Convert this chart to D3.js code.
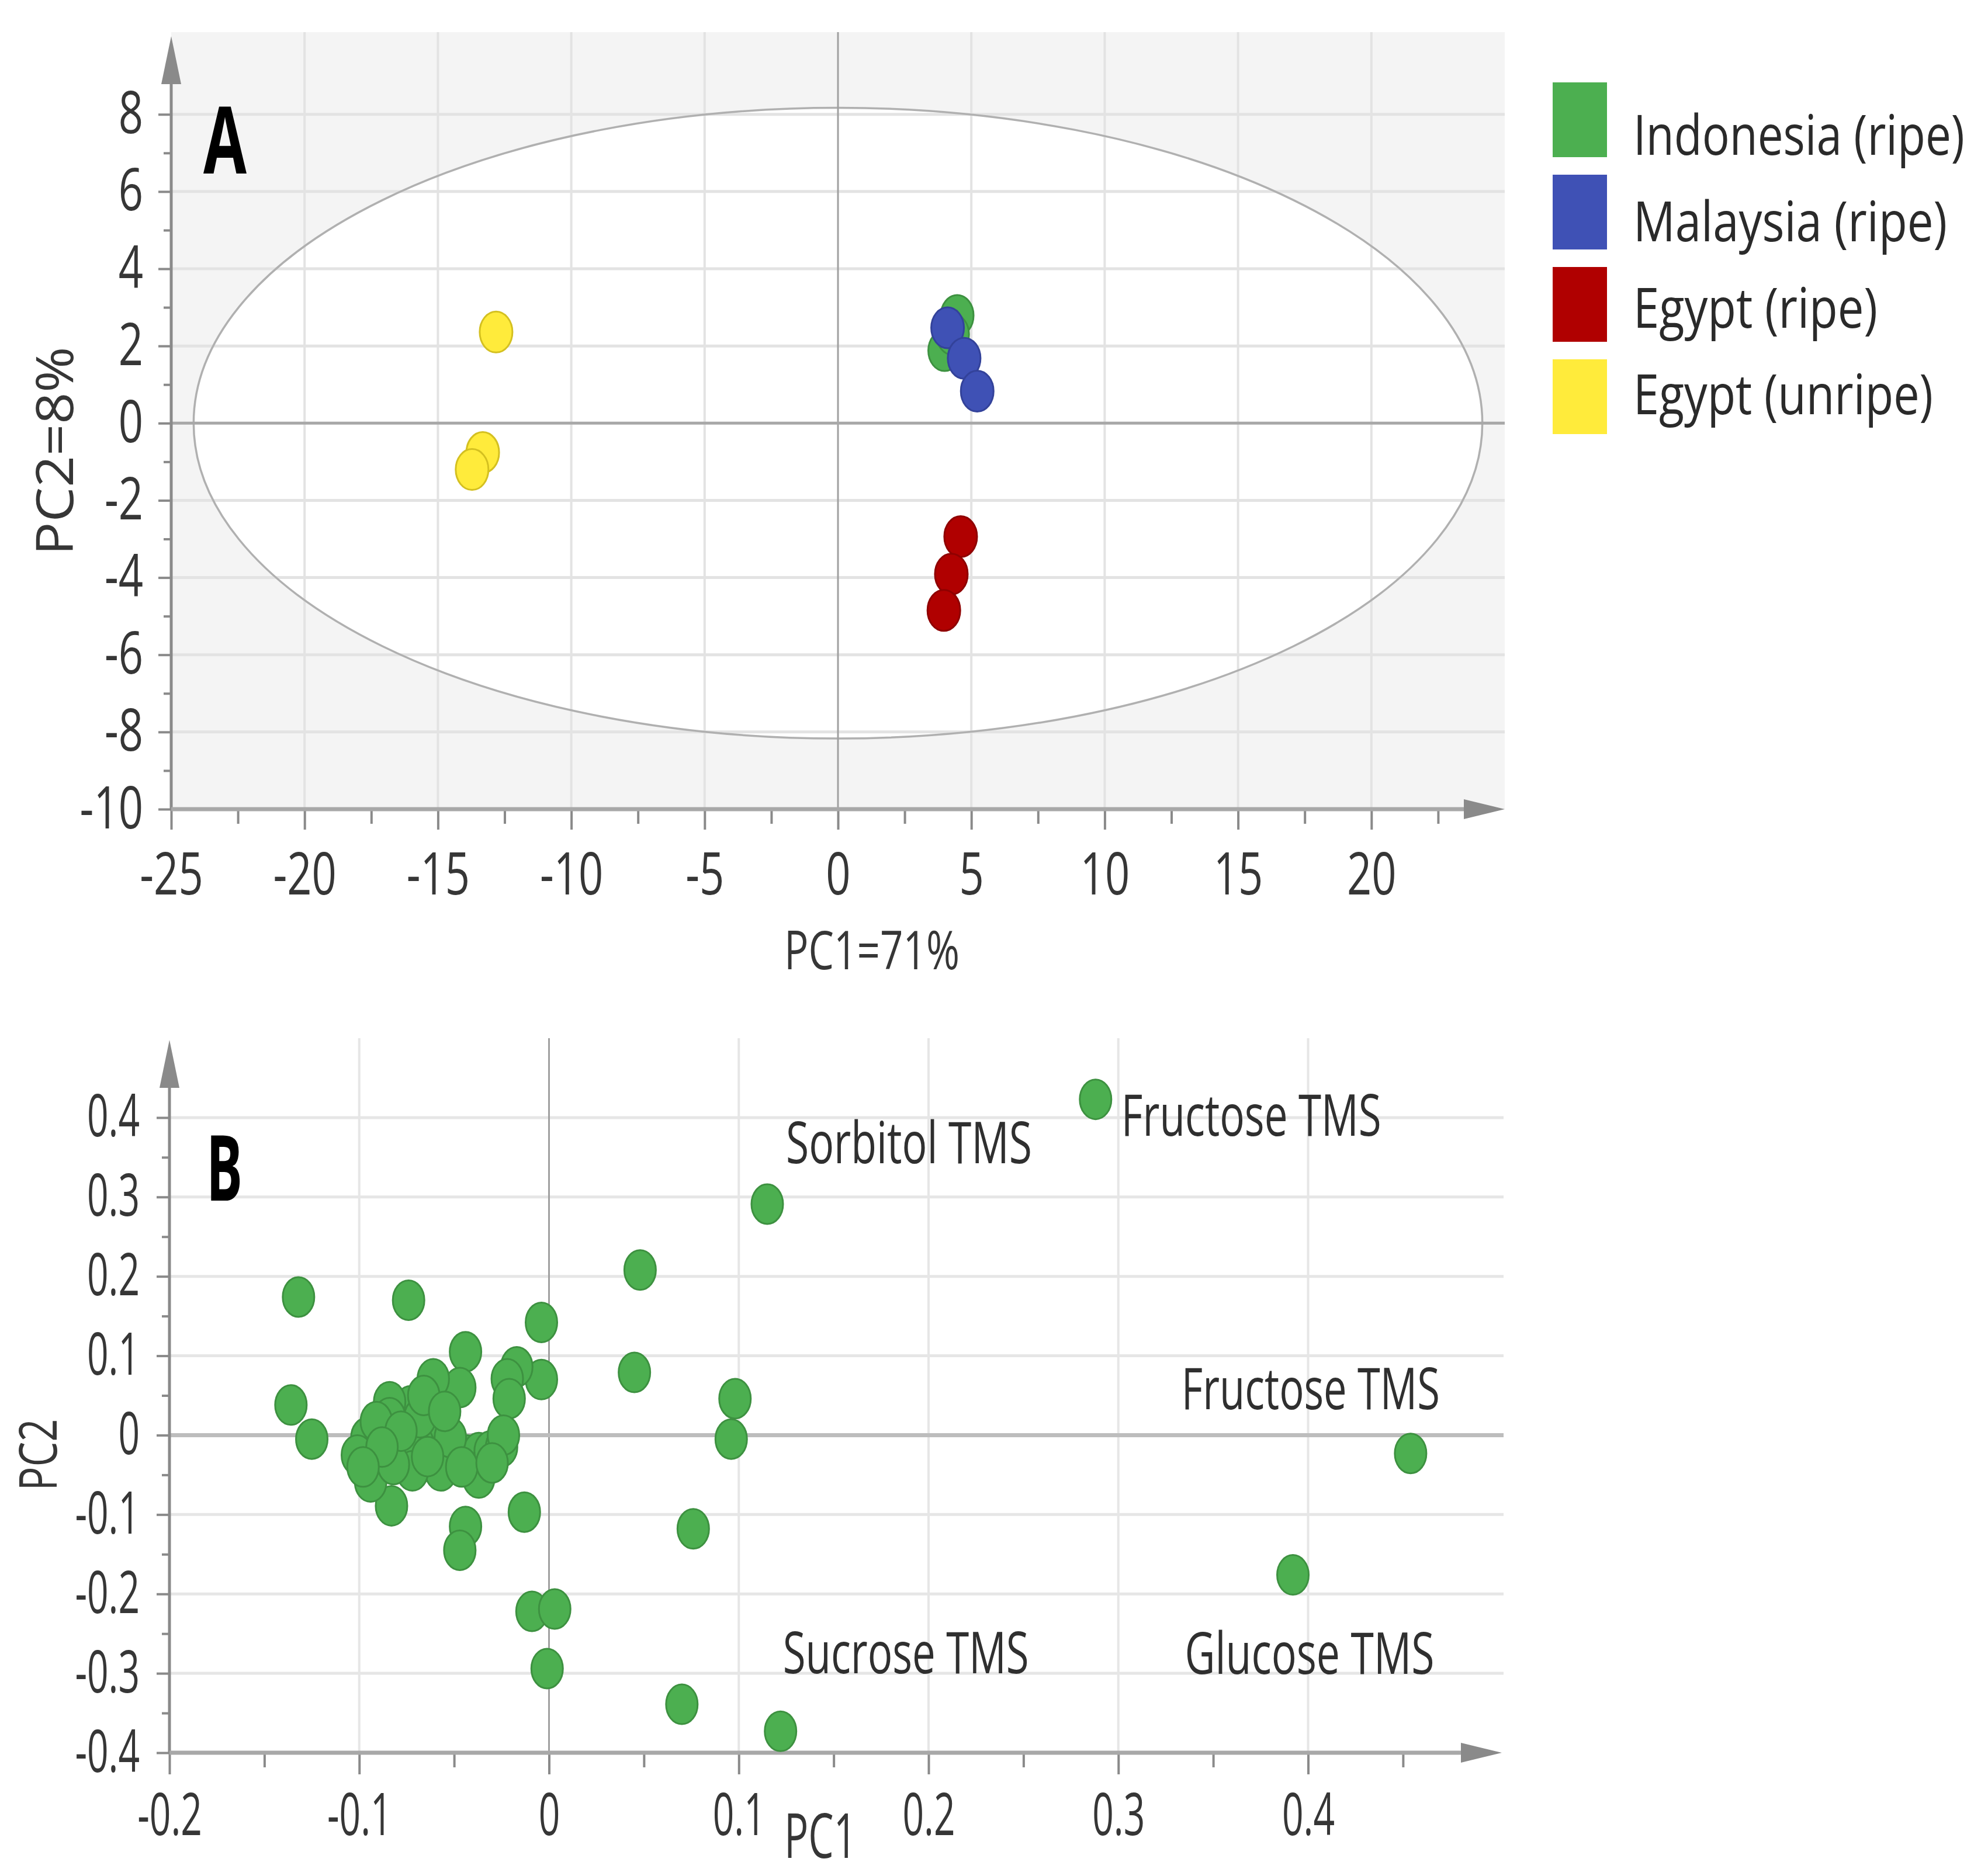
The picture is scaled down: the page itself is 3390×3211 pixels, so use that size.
<!DOCTYPE html>
<html><head><meta charset="utf-8">
<script src="https://cdn.jsdelivr.net/npm/d3@7"></script>
<style>body{margin:0;background:#fff}svg{display:block}text{font-family:"Open Sans",sans-serif}</style>
</head><body>
<script>
// ---------- DATA ----------
const groupNames = ["Indonesia (ripe)", "Malaysia (ripe)", "Egypt (ripe)", "Egypt (unripe)"];
const groupColors = ["#4caf50", "#3f51b5", "#b00000", "#ffeb3b"];
const groupStrokes = ["#3d9140", "#33429a", "#8f0000", "#d4c020"];
// scores (PC1, PC2) per group
const scoresIndonesia = [[4.47, 2.79], [4.0, 1.88], [4.3, 2.3]];
const scoresMalaysia  = [[4.11, 2.47], [4.73, 1.68], [5.22, 0.83]];
const scoresEgyptRipe = [[4.6, -2.94], [4.25, -3.91], [3.97, -4.85]];
const scoresEgyptUnripe = [[-12.82, 2.36], [-13.32, -0.76], [-13.72, -1.2]];
const ellipseRadii = [24.16, 8.17];
const scoreXTicks = [-25, -20, -15, -10, -5, 0, 5, 10, 15, 20];
const scoreYTicks = [-10, -8, -6, -4, -2, 0, 2, 4, 6, 8];
// loadings (PC1, PC2)
const loadings = [
 [-0.132,0.174],[-0.074,0.170],[-0.136,0.038],[-0.125,-0.005],[-0.004,0.142],[-0.044,0.105],
 [-0.004,0.070],[0.048,0.208],[0.045,0.079],[0.115,0.291],[0.098,0.046],[0.096,-0.005],
 [0.076,-0.118],[-0.013,-0.097],[-0.044,-0.115],[-0.047,-0.145],[-0.009,-0.222],[0.003,-0.219],
 [-0.001,-0.294],[0.070,-0.339],[0.122,-0.373],[-0.083,-0.089],
 [0.288,0.423],[0.454,-0.023],[0.392,-0.176],
 [-0.017,0.086],[-0.022,0.071],[-0.021,0.046],[-0.047,0.060],[-0.061,0.071],[-0.073,0.037],
 [-0.084,0.042],[-0.060,0.012],[-0.096,-0.003],[-0.101,-0.025],[-0.069,-0.012],[-0.050,-0.017],
 [-0.043,-0.025],[-0.037,-0.022],[-0.031,-0.020],[-0.025,-0.015],[-0.024,0.000],[-0.037,-0.054],
 [-0.094,-0.059],[-0.057,-0.045],[-0.072,-0.045],[-0.082,-0.037],[-0.084,0.022],[-0.091,0.017],
 [-0.068,0.022],[-0.052,-0.003],[-0.064,-0.027],[-0.078,0.005],[-0.088,-0.015],[-0.046,-0.040],
 [-0.030,-0.035],[-0.066,0.050],[-0.055,0.030],[-0.098,-0.040]
];
const loadingLabels = [
 {name:"Fructose TMS", at:[0.288,0.423]},
 {name:"Sorbitol TMS", at:[0.115,0.291]},
 {name:"Fructose TMS", at:[0.454,-0.023]},
 {name:"Sucrose TMS", at:[0.122,-0.373]},
 {name:"Glucose TMS", at:[0.392,-0.176]}
];
const loadXTicks = [-0.2, -0.1, 0, 0.1, 0.2, 0.3, 0.4];
const loadYTicks = [-0.4, -0.3, -0.2, -0.1, 0, 0.1, 0.2, 0.3, 0.4];

// ---------- LAYOUT ----------
const W = 3390, H = 3211;
const svg = d3.select("body").append("svg").attr("width", W).attr("height", H);
const TXT = "#363636";
function squeeze(sel, f) {
  sel.each(function(){
    const x = +(this.getAttribute("x") || 0);
    this.setAttribute("transform", `translate(${x * (1 - f)},0) scale(${f},1)`);
  });
}
function fitText(g, x, y, str, size, width, opts = {}) {
  const t = g.append("text").attr("font-size", size).attr("fill", opts.fill || TXT)
    .attr("font-weight", opts.weight || 400).attr("text-anchor", opts.anchor || "start").text(str);
  const w = t.node().getComputedTextLength();
  const f = width / w;
  t.attr("transform", `translate(${x},${y})${opts.rotate ? " rotate(" + opts.rotate + ")" : ""} scale(${f},1)`);
  return t;
}
function arrowUp(g, x, tip) {
  g.append("path").attr("d", `M${x},${tip} L${x-17},${tip+82} L${x+17},${tip+82} Z`).attr("fill", "#8a8a8a");
}
function arrowRight(g, tip, y) {
  g.append("path").attr("d", `M${tip},${y} L${tip-70},${y-17} L${tip-70},${y+17} Z`).attr("fill", "#8a8a8a");
}
function styleAxis(a) {
  a.select(".domain").remove();
  a.selectAll(".tick line").attr("stroke", "#8a8a8a").attr("stroke-width", 4);
  a.selectAll("text").attr("font-size", 100).attr("fill", TXT).attr("font-family", '"Open Sans",sans-serif');
}

// ================= PANEL A =================
const xA = d3.scaleLinear().domain([-25, 25]).range([293, 2575]);
const yA = d3.scaleLinear().domain([-10, 10.13]).range([1385, 55]);
const gA = svg.append("g");
gA.append("rect").attr("x", xA(-25)).attr("y", yA(10.13)).attr("width", xA(25)-xA(-25))
  .attr("height", yA(-10)-yA(10.13)).attr("fill", "#f4f4f4");
gA.append("ellipse").attr("cx", xA(0)).attr("cy", yA(0))
  .attr("rx", xA(ellipseRadii[0]) - xA(0)).attr("ry", yA(0) - yA(ellipseRadii[1])).attr("fill", "#fff");
gA.selectAll(".gvx").data(d3.range(-20, 25, 5).filter(d => d !== 0)).join("line")
  .attr("x1", d => xA(d)).attr("x2", d => xA(d)).attr("y1", yA(10.13)).attr("y2", yA(-10))
  .attr("stroke", "#e3e3e3").attr("stroke-width", 4);
gA.selectAll(".gvy").data(d3.range(-8, 10, 2).filter(d => d !== 0)).join("line")
  .attr("x1", xA(-25)).attr("x2", xA(25)).attr("y1", d => yA(d)).attr("y2", d => yA(d))
  .attr("stroke", "#e3e3e3").attr("stroke-width", 5);
gA.append("ellipse").attr("cx", xA(0)).attr("cy", yA(0))
  .attr("rx", xA(ellipseRadii[0]) - xA(0)).attr("ry", yA(0) - yA(ellipseRadii[1]))
  .attr("fill", "none").attr("stroke", "#b0b0b0").attr("stroke-width", 3.5);
gA.append("line").attr("x1", xA(0)).attr("x2", xA(0)).attr("y1", yA(10.13)).attr("y2", yA(-10))
  .attr("stroke", "#a0a0a0").attr("stroke-width", 3);
gA.append("line").attr("x1", xA(-25)).attr("x2", xA(25)).attr("y1", yA(0)).attr("y2", yA(0))
  .attr("stroke", "#a8a8a8").attr("stroke-width", 5);
const axAy = gA.append("g").attr("transform", `translate(${xA(-25)},0)`)
  .call(d3.axisLeft(yA).tickValues(scoreYTicks).tickSize(22).tickPadding(26).tickFormat(d => String(d)));
const axAyMinor = gA.append("g").attr("transform", `translate(${xA(-25)},0)`)
  .call(d3.axisLeft(yA).tickValues(d3.range(-9, 10, 2)).tickSize(13).tickFormat(""));
const axAx = gA.append("g").attr("transform", `translate(0,${yA(-10)})`)
  .call(d3.axisBottom(xA).tickValues(scoreXTicks).tickSize(35).tickPadding(40).tickFormat(d => String(d)));
const axAxMinor = gA.append("g").attr("transform", `translate(0,${yA(-10)})`)
  .call(d3.axisBottom(xA).tickValues(d3.range(-22.5, 25, 5)).tickSize(25).tickFormat(""));
[axAy, axAyMinor, axAx, axAxMinor].forEach(styleAxis);
squeeze(axAy.selectAll("text"), 0.74);
squeeze(axAx.selectAll("text"), 0.74);
gA.append("line").attr("x1", xA(-25)).attr("x2", xA(-25)).attr("y1", yA(-10)).attr("y2", 120)
  .attr("stroke", "#8a8a8a").attr("stroke-width", 5);
gA.append("line").attr("x1", xA(-25)).attr("x2", 2520).attr("y1", yA(-10)).attr("y2", yA(-10))
  .attr("stroke", "#a8a8a8").attr("stroke-width", 7);
arrowUp(gA, xA(-25), 62);
arrowRight(gA, 2575, yA(-10));
const groupsA = [scoresIndonesia, scoresMalaysia, scoresEgyptRipe, scoresEgyptUnripe];
groupsA.forEach((pts, i) => {
  gA.selectAll(null).data(pts).join("ellipse")
    .attr("cx", d => xA(d[0])).attr("cy", d => yA(d[1])).attr("rx", 28).attr("ry", 35)
    .attr("fill", groupColors[i]).attr("stroke", groupStrokes[i]).attr("stroke-width", 3);
});
fitText(gA, 348, 297, "A", 160, 74, {weight: 700, fill: "#000"});
fitText(gA, 1342, 1659, "PC1=71%", 92, 300);
fitText(gA, 125, 772, "PC2=8%", 88, 357, {anchor: "middle", rotate: -90});
// legend
const legW = [567, 537, 418, 513];
const leg = svg.append("g");
groupNames.forEach((n, i) => {
  leg.append("rect").attr("x", 2657).attr("y", 141 + i * 158).attr("width", 93).attr("height", 128)
    .attr("fill", groupColors[i]);
  fitText(leg, 2795, 265 + i * 148, n, 96, legW[i], {fill: "#2a2a2a"});
});

// ================= PANEL B =================
const xB = d3.scaleLinear().domain([-0.2, 0.503]).range([290, 2573]);
const yB = d3.scaleLinear().domain([-0.4, 0.5]).range([3000, 1777]);
const gB = svg.append("g");
gB.selectAll(".gx").data([-0.1, 0.1, 0.2, 0.3, 0.4]).join("line")
  .attr("x1", d => xB(d)).attr("x2", d => xB(d)).attr("y1", 1777).attr("y2", yB(-0.4))
  .attr("stroke", "#e6e6e6").attr("stroke-width", 4);
gB.selectAll(".gy").data(loadYTicks.filter(d => d !== 0 && d !== -0.4)).join("line")
  .attr("x1", xB(-0.2)).attr("x2", xB(0.503)).attr("y1", d => yB(d)).attr("y2", d => yB(d))
  .attr("stroke", "#e6e6e6").attr("stroke-width", 5);
gB.append("line").attr("x1", xB(0)).attr("x2", xB(0)).attr("y1", 1777).attr("y2", yB(-0.4))
  .attr("stroke", "#a0a0a0").attr("stroke-width", 3);
gB.append("line").attr("x1", xB(-0.2)).attr("x2", xB(0.503)).attr("y1", yB(0)).attr("y2", yB(0))
  .attr("stroke", "#bdbdbd").attr("stroke-width", 7);
const axBy = gB.append("g").attr("transform", `translate(${xB(-0.2)},0)`)
  .call(d3.axisLeft(yB).tickValues(loadYTicks).tickSize(22).tickPadding(29).tickFormat(d => String(d)));
const axByMinor = gB.append("g").attr("transform", `translate(${xB(-0.2)},0)`)
  .call(d3.axisLeft(yB).tickValues([-0.35, -0.25, -0.15, -0.05, 0.05, 0.15, 0.25, 0.35]).tickSize(13).tickFormat(""));
const axBx = gB.append("g").attr("transform", `translate(0,${yB(-0.4)})`)
  .call(d3.axisBottom(xB).tickValues(loadXTicks).tickSize(37).tickPadding(33).tickFormat(d => String(d)));
const axBxMinor = gB.append("g").attr("transform", `translate(0,${yB(-0.4)})`)
  .call(d3.axisBottom(xB).tickValues([-0.15, -0.05, 0.05, 0.15, 0.25, 0.35, 0.45]).tickSize(25).tickFormat(""));
[axBy, axByMinor, axBx, axBxMinor].forEach(styleAxis);
squeeze(axBy.selectAll("text"), 0.64);
squeeze(axBx.selectAll("text"), 0.64);
gB.append("line").attr("x1", xB(-0.2)).attr("x2", xB(-0.2)).attr("y1", yB(-0.4)).attr("y2", 1840)
  .attr("stroke", "#8a8a8a").attr("stroke-width", 5);
gB.append("line").attr("x1", xB(-0.2)).attr("x2", 2510).attr("y1", yB(-0.4)).attr("y2", yB(-0.4))
  .attr("stroke", "#a8a8a8").attr("stroke-width", 7);
arrowUp(gB, xB(-0.2), 1780);
arrowRight(gB, 2570, yB(-0.4));
gB.selectAll(".pt").data(loadings).join("ellipse")
  .attr("cx", d => xB(d[0])).attr("cy", d => yB(d[1])).attr("rx", 27).attr("ry", 34)
  .attr("fill", groupColors[0]).attr("stroke", groupStrokes[0]).attr("stroke-width", 3);
const labOff = [[44, 62], [32, -70], [-392, -76], [4, -99], [-185, 169]];
const labW = [445, 421, 442, 421, 427];
loadingLabels.forEach((l, i) => {
  fitText(gB, xB(l.at[0]) + labOff[i][0], yB(l.at[1]) + labOff[i][1], l.name, 98, labW[i], {fill: "#2f2f2f"});
});
fitText(gB, 353, 2055, "B", 156, 62, {weight: 700, fill: "#000"});
fitText(gB, 1342, 3180, "PC1", 106, 124);
fitText(gB, 97, 2490, "PC2", 90, 123, {anchor: "middle", rotate: -90});
</script>
</body></html>
